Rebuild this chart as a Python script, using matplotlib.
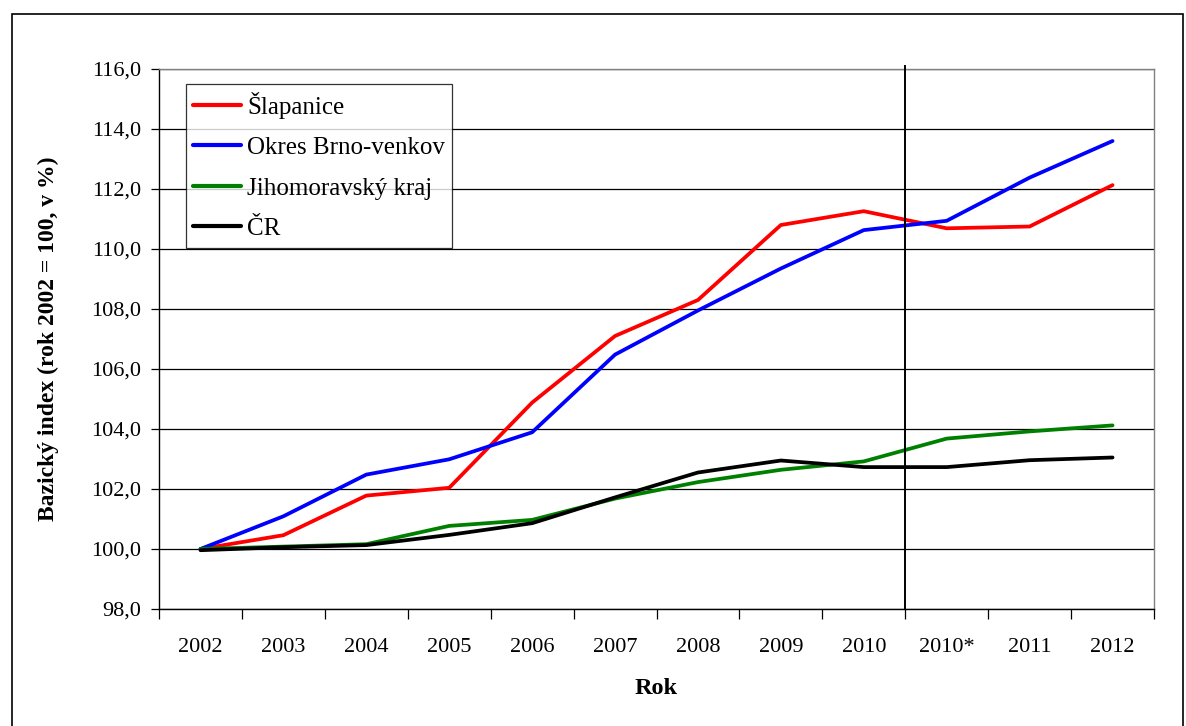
import numpy as np
from matplotlib import pyplot as plt
from matplotlib.patches import Rectangle

# data (bazicky index, 2002 = 100)
roky = ["2002", "2003", "2004", "2005", "2006", "2007", "2008", "2009", "2010", "2010*", "2011", "2012"]
slapanice = [100.0, 100.46, 101.78, 102.04, 104.88, 107.1, 108.3, 110.8, 111.26, 110.69, 110.75, 112.13]
brno_venkov = [100.0, 101.09, 102.48, 102.99, 103.89, 106.48, 107.95, 109.35, 110.63, 110.94, 112.38, 113.6]
jihomoravsky = [100.0, 100.08, 100.16, 100.77, 100.97, 101.68, 102.23, 102.64, 102.92, 103.68, 103.92, 104.12]
cr = [99.96, 100.06, 100.13, 100.47, 100.86, 101.72, 102.55, 102.95, 102.73, 102.73, 102.96, 103.05]

serie = [
    ("Šlapanice", slapanice, "#ff0000"),
    ("Okres Brno-venkov", brno_venkov, "#0000ff"),
    ("Jihomoravský kraj", jihomoravsky, "#008000"),
    ("ČR", cr, "#000000"),
]

plt.rcParams['font.family'] = ['Liberation Serif', 'DejaVu Serif']

fig = plt.figure(figsize=(11.86, 7.26), dpi=100)
ax = fig.add_axes([159/1186, 1-609/726, (1154-159)/1186, (609-69)/726])

# ramecek kolem celeho grafu
fig.patches.append(Rectangle((12/1186, -0.05), (1183-12)/1186, 1.05-14/726,
                             transform=fig.transFigure, fill=False, edgecolor="black", lw=1.2))

x = np.arange(len(roky))
for nazev, hodnoty, barva in serie:
    ax.plot(x, hodnoty, color=barva, lw=2.7, label=nazev, solid_capstyle="round")

ax.set_xlim(-0.5, len(roky)-0.5)
ax.set_ylim(98, 116)
ax.set_yticks(np.arange(98, 116.1, 2))
ax.set_yticklabels([f"{v:.1f}".replace(".", ",") for v in np.arange(98, 116.1, 2)], fontsize=16)
ax.yaxis.grid(True, color="black", lw=0.9)
ax.set_axisbelow(True)

# kategorie: popisky uprostred, carky na hranicich
ax.set_xticks(x)
ax.set_xticklabels(roky, fontsize=16)
ax.tick_params(axis="x", which="major", length=0, pad=21)
ax.set_xticks(np.arange(-0.5, len(roky), 1), minor=True)
ax.tick_params(axis="x", which="minor", length=7, width=0.9, color="black")
ax.tick_params(axis="y", length=6, width=0.9, color="black", pad=7)

# oddeleni 2010 / 2010*
ax.plot([8.5, 8.5], [98, 116.1], color="black", lw=1.4, clip_on=False, zorder=5)

for s in ["top", "right"]:
    ax.spines[s].set_color("#808080")
for s in ["left", "bottom"]:
    ax.spines[s].set_color("black")
for s in ax.spines.values():
    s.set_linewidth(1.0)

ax.set_xlabel("Rok", fontsize=17.5, fontweight="bold")
ax.xaxis.set_label_coords((656-159)/995, -(678-609)/540)
ax.set_ylabel("Bazický index (rok 2002 = 100, v %)", fontsize=17, fontweight="bold")
ax.yaxis.set_label_coords(-(159-59)/995, 0.5)

leg = ax.legend(loc="upper left", bbox_to_anchor=(0.027, 0.972), fontsize=18, frameon=True,
                fancybox=False, edgecolor="black", handlelength=1.9, handletextpad=0.25,
                labelspacing=0.72, borderpad=0.3, borderaxespad=0)
leg.get_frame().set_linewidth(0.9)
for l in leg.get_lines():
    l.set_linewidth(3)

fig.savefig("out.png", dpi=100)
